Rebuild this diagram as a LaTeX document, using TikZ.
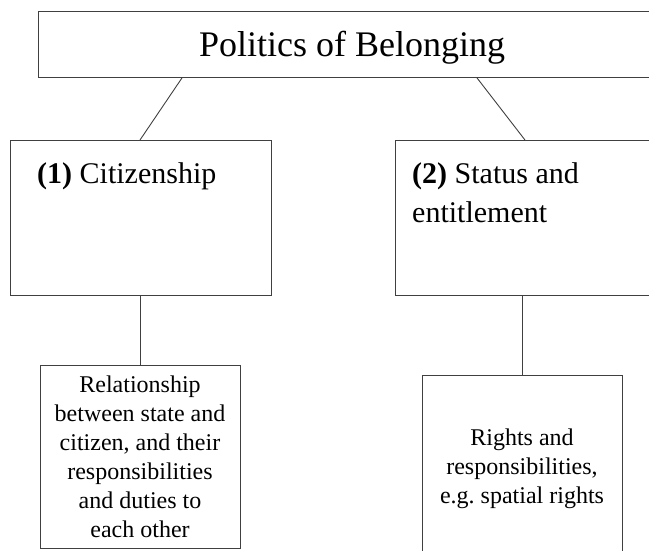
\documentclass[tikz,border=0pt]{standalone}
\usepackage{fontspec}
\setmainfont{Liberation Serif}
\frenchspacing
\begin{document}
\begin{tikzpicture}[x=1pt,y=-1pt,
  box/.style={draw=black!75, line width=0.9pt, rectangle, inner sep=0pt, anchor=north west},
  link/.style={draw=black!75, line width=0.9pt},
  txt/.style={inner sep=0pt, text=black}]
\clip (0,0) rectangle (649,550);
% boxes
\node[box, minimum width=632pt, minimum height=66pt] (top) at (38,11) {};
\node[box, minimum width=261pt, minimum height=155pt] (c1) at (10,140) {};
\node[box, minimum width=270pt, minimum height=155pt] (c2) at (395,140) {};
\node[box, minimum width=200pt, minimum height=183pt] (r1) at (40,365) {};
\node[box, minimum width=200pt, minimum height=190pt] (r2) at (422,375) {};
% texts
\node[txt, anchor=base, font=\fontsize{36}{43}\selectfont] (title) at (352,56.7) {Politics of Belonging};
\node[txt, anchor=base west, font=\fontsize{30}{39}\selectfont] (c1t) at (37,183) {\textbf{(1)} Citizenship};
\node[txt, anchor=base west, font=\fontsize{30}{39}\selectfont, text width=240pt, align=flush left] (c2t) at (412,183) {\textbf{(2)} Status and\\entitlement};
\node[txt, anchor=base, font=\fontsize{24}{29}\selectfont, text width=200pt, align=flush center] (r1t) at (140,392.7) {Relationship\\between state and\\citizen, and their\\responsibilities\\and duties to\\each other};
\node[txt, anchor=base, font=\fontsize{24}{29}\selectfont, text width=200pt, align=flush center] (r2t) at (522,445) {Rights and\\responsibilities,\\e.g. spatial rights};
% connectors
\draw[link] ([xshift=144pt]top.south west) -- ([xshift=130pt]c1.north west);
\draw[link] ([xshift=439pt]top.south west) -- ([xshift=130pt]c2.north west);
\draw[link] (r1.north |- c1.south) -- (r1.north);
\draw[link] (r2.north |- c2.south) -- (r2.north);
\end{tikzpicture}
\end{document}
